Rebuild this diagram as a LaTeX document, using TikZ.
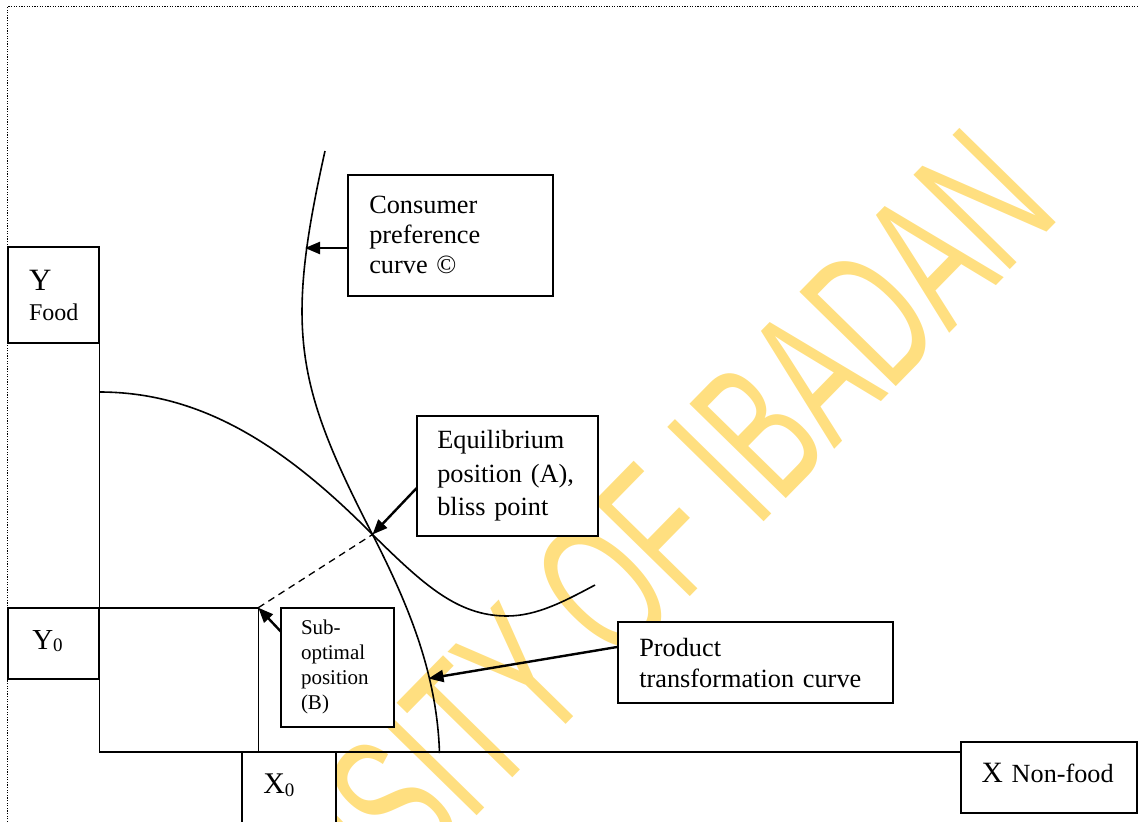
\documentclass[tikz,border=0pt]{standalone}
\usepackage{fontspec}
\setmainfont{Liberation Serif}
\newfontfamily\wmfont{Liberation Sans}
\usetikzlibrary{arrows.meta}
\definecolor{wm}{RGB}{255,223,128}
\newcommand\fsz[2]{\fontsize{#1}{#2}\selectfont}
\begin{document}
\begin{tikzpicture}[x=1pt,y=-1pt,
  box/.style={draw, line width=1.8pt, fill=white, inner ysep=0pt, outer sep=0pt, align=left},
  curve/.style={line width=1.6pt},
  axis/.style={line width=1.6pt},
  arr/.style={line width=2.4pt, -{Triangle[length=15pt,width=12pt]}},
  frame/.style={line width=1.3pt, dash pattern=on 1.3pt off 1.3pt},
  ]
\useasboundingbox (0,0) rectangle (1138,822);
% watermark
\begin{scope}
\clip (0,0) rectangle (1138,822);
\node[anchor=base east, rotate=45.6, xscale=0.6, text=wm, font=\wmfont\fsz{196}{196}, inner sep=0pt] (wmk) at (1063.4,216.2) {UNIVERSITY OF IBADAN};
\end{scope}
% frame
\draw[frame] (7.5,822) -- (7.5,6.5) -- (1138,6.5);
% boxes
\node[box, anchor=north west, text width=163pt, inner xsep=21pt, minimum height=120.7pt, font=\fsz{26.3}{30}] (cons) at (348.3,175) {Consumer\\preference\\curve ©};
\node[box, anchor=north west, text width=140.4pt, inner xsep=20.6pt, minimum height=120pt, font=\fsz{26.3}{33.3}] (eq) at (416.7,415.7) {Equilibrium\\position (A),\\bliss point};
\node[box, anchor=north west, text width=233pt, inner xsep=21pt, minimum height=81pt, font=\fsz{26.3}{31}] (pt) at (618.3,622.3) {Product\\transformation curve};
\node[box, anchor=north west, text width=73.3pt, inner xsep=20pt, minimum height=119.3pt, font=\fsz{21}{25}] (sub) at (281,607.7) {Sub-\\optimal\\position\\(B)};
\node[box, anchor=north west, minimum width=91pt, minimum height=96pt, inner xsep=0pt, font=\fsz{24}{30}] (yfood) at (8.3,247.3) {{\fsz{31}{30}Y}\\Food};
\node[box, anchor=north west, text width=43pt, inner xsep=24pt, minimum height=71.3pt, text height=20pt, text depth=8.7pt, font=\fsz{29}{30}] (y0) at (8.3,607.7) {Y\raisebox{-2.7pt}{\fsz{19}{19}0}};
\node[box, anchor=north west, text width=51.7pt, inner xsep=21pt, minimum height=100pt, text height=20pt, text depth=36.8pt, font=\fsz{30}{30}] (x0) at (242.3,751.7) {X\raisebox{-3.4pt}{\fsz{19}{19}0}};
\node[box, anchor=north west, text width=134.3pt, inner xsep=21pt, minimum height=71pt, text height=20pt, text depth=10.2pt, font=\fsz{26.2}{30}] (xnf) at (960.7,742.3) {{\fsz{29.5}{30}X} Non-food};
% coordinates
\coordinate (O) at (99.3,751.7);
\coordinate (B) at (258.3,607.7);
\coordinate (A) at (372.5,534.5);
\coordinate (cpT) at (305,248);
\coordinate (ptT) at (428.5,678.5);
\coordinate (cTop) at (325,151);
\coordinate (cBot) at (439.5,753);
\coordinate (pStart) at (99.3,392);
\coordinate (pLow) at (507,616);
\coordinate (pEnd) at (595,585);
% axes and guide lines
\draw[axis] (yfood.south east) -- (O) -- (xnf.west |- O);
\draw[axis] (y0.north east) -- (B) -- (B |- O);
\draw[line width=1.3pt, dash pattern=on 7pt off 5pt] (B) -- (A);
% curves
\draw[curve] (cTop) .. controls (285,330) and (295,384) .. (A) .. controls (408,604) and (437,673) .. (cBot);
\draw[curve] (pStart) .. controls (200,392) and (283,444) .. (A) .. controls (423,584) and (457,616) .. (pLow) .. controls (537,616) and (565,601) .. (pEnd);
% arrows
\draw[arr] (cons.west |- cpT) -- (cpT);
\draw[arr] ([yshift=-12.3pt]eq.west) -- (A);
\draw[arr] ([yshift=-24pt]sub.north west) -- (B);
\draw[arr] ([yshift=16pt]pt.west) -- (ptT);
\end{tikzpicture}
\end{document}
